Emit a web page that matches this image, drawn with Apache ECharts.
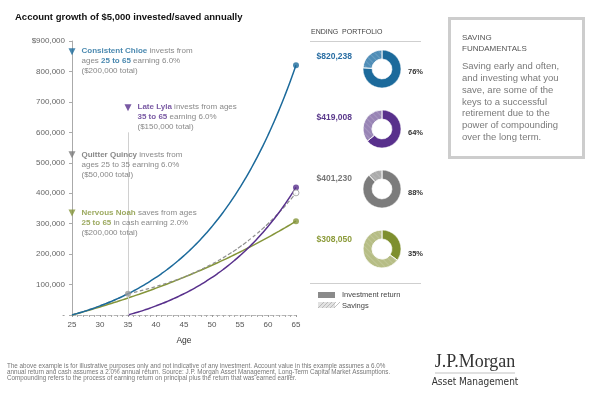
<!DOCTYPE html>
<html>
<head>
<meta charset="utf-8">
<script src="https://cdn.jsdelivr.net/npm/echarts@6/dist/echarts.min.js"></script>
<style>
  html, body { margin: 0; padding: 0; background: #fff; }
  #chart { width: 600px; height: 400px; }
</style>
</head>
<body>
<div id="chart"></div>
<script>
// ages on the x axis (25..65)
const ages = [25, 26, 27, 28, 29, 30, 31, 32, 33, 34, 35, 36, 37, 38, 39, 40, 41, 42, 43, 44, 45,
  46, 47, 48, 49, 50, 51, 52, 53, 54, 55, 56, 57, 58, 59, 60, 61, 62, 63, 64, 65];
const lylaAges = [35, 36, 37, 38, 39, 40, 41, 42, 43, 44, 45, 46, 47, 48, 49, 50, 51, 52, 53, 54, 55,
  56, 57, 58, 59, 60, 61, 62, 63, 64, 65];

// account values
const chloe = [0, 5300, 10918, 16873, 23186, 29877, 36969, 44487, 52457, 60904, 69858, 79350, 89411,
  100075, 111380, 123363, 136064, 149528, 163800, 178928, 194964, 211961, 229979, 249078, 269323,
  290782, 313529, 337641, 363199, 390291, 419008, 449449, 481716, 515919, 552174, 590604, 631341,
  674521, 720292, 768810, 820238];
const lyla = [0, 5300, 10918, 16873, 23186, 29877, 36969, 44487, 52457, 60904, 69858, 79350, 89411,
  100075, 111380, 123363, 136064, 149528, 163800, 178928, 194964, 211961, 229979, 249078, 269323,
  290782, 313529, 337641, 363199, 390291, 419008];
const quincy = [0, 5300, 10918, 16873, 23186, 29877, 36969, 44487, 52457, 60904, 69858, 74049, 78492,
  83202, 88194, 93486, 99095, 105040, 111343, 118023, 125105, 132611, 140568, 149002, 157942, 167418,
  177464, 188111, 199398, 211362, 224044, 237486, 251735, 266840, 282850, 299821, 317810, 336879,
  357092, 378517, 401229];
const noah = [0, 5100, 10302, 15608, 21020, 26541, 32171, 37915, 43773, 49749, 55843, 62060, 68402,
  74870, 81467, 88196, 95060, 102061, 109203, 116487, 123916, 131495, 139225, 147109, 155151, 163355,
  171722, 180256, 188961, 197840, 206897, 216135, 225558, 235169, 244972, 254972, 265171, 275575,
  286186, 297010, 308050];

// ending portfolio panel
const endingLabels = ['$820,238', '$419,008', '$401,230', '$308,050'];
const returnPct = [76, 64, 88, 35];

const BLUE = '#1c6a9b', PURPLE = '#58308c', OLIVE = '#85953a';
const darkCols = [BLUE, PURPLE, '#7c7c7c', '#7e8f2e'];
const lightCols = ['#4f8db7', '#9884b5', '#ababab', '#b6bd85'];
const labelCols = ['#2a6ea3', '#5b3a8c', '#777777', '#8c9b3a'];

const FONT = '"Liberation Sans", Arial, sans-serif';

const chart = echarts.init(document.getElementById('chart'));

const pair = (xs, ys) => ys.map((v, i) => [xs[i], v]);

function note(pos, color, text, nameStyle) {
  return {
    value: pos,
    itemStyle: { color: color },
    label: {
      show: true,
      position: [13, -2],
      align: 'left',
      verticalAlign: 'top',
      fontFamily: FONT,
      fontSize: 8,
      lineHeight: 10,
      color: '#6a6a6a',
      formatter: text,
      rich: {
        n: { color: nameStyle, fontWeight: 'bold', fontSize: 8, lineHeight: 10, fontFamily: FONT }
      }
    }
  };
}

const pies = returnPct.map((p, i) => ({
  type: 'pie',
  silent: true,
  center: [382, 69 + i * 60],
  radius: [10, 19],
  startAngle: 90,
  clockwise: true,
  label: { show: false },
  labelLine: { show: false },
  itemStyle: { borderColor: '#fff', borderWidth: 0.6 },
  data: [
    { value: p, itemStyle: { color: darkCols[i] } },
    { value: 100 - p, itemStyle: { color: lightCols[i],
      decal: { symbol: 'rect', symbolSize: 1, dashArrayX: [1, 0], dashArrayY: [1, 3],
        rotation: Math.PI / 4, color: 'rgba(255,255,255,0.14)' } } }
  ]
}));

const graphics = [
  { type: 'text', x: 15, y: 17, style: { text: 'Account growth of $5,000 invested/saved annually',
      font: 'bold 9.5px ' + FONT, fill: '#111', verticalAlign: 'middle' } },
  { type: 'text', x: 311, y: 32, style: { text: 'ENDING  PORTFOLIO',
      font: '7px ' + FONT, fill: '#444', verticalAlign: 'middle' } },
  { type: 'line', shape: { x1: 310, y1: 41.5, x2: 421, y2: 41.5 }, style: { stroke: '#cfcfcf', lineWidth: 1 } },
  { type: 'line', shape: { x1: 310, y1: 283.5, x2: 421, y2: 283.5 }, style: { stroke: '#cfcfcf', lineWidth: 1 } },
  { type: 'rect', shape: { x: 318, y: 292, width: 17, height: 6 }, style: { fill: '#8a8a8a' } },
  { type: 'rect', shape: { x: 318, y: 302, width: 17, height: 6 }, style: { fill: '#e2e2e2' } },
  { type: 'text', x: 342, y: 295, style: { text: 'Investment return', font: '7.5px ' + FONT,
      fill: '#444', verticalAlign: 'middle' } },
  { type: 'text', x: 342, y: 306, style: { text: 'Savings', font: '7.5px ' + FONT,
      fill: '#444', verticalAlign: 'middle' } },
  // box on the right
  { type: 'rect', shape: { x: 449.5, y: 18.5, width: 134, height: 139 },
    style: { fill: '#fff', stroke: '#cdcdcd', lineWidth: 3 } },
  { type: 'text', x: 462, y: 33, style: { text: 'SAVING\nFUNDAMENTALS', font: '8px ' + FONT,
      lineHeight: 10.5, fill: '#555' } },
  { type: 'text', x: 462, y: 61, style: {
      text: 'Saving early and often,\nand investing what you\nsave, are some of the\nkeys to a successful\n' +
        'retirement due to the\npower of compounding\nover the long term.',
      font: '9.5px ' + FONT, lineHeight: 11.7, fill: '#7a7a7a' } },
  // footnote
  { type: 'text', x: 7, y: 363, style: {
      text: 'The above example is for illustrative purposes only and not indicative of any investment. ' +
        'Account value in this example assumes a 6.0%\nannual return and cash assumes a 2.0% annual return. ' +
        'Source: J.P. Morgan Asset Management, Long-Term Capital Market Assumptions.\n' +
        'Compounding refers to the process of earning return on principal plus the return that was earned earlier.',
      font: '6.3px ' + FONT, lineHeight: 6.3, fill: '#777' } },
  // logo
  { type: 'text', x: 475, y: 362, style: { text: 'J.P.Morgan', font: '18px "Liberation Serif", "DejaVu Serif", serif',
      fill: '#333', align: 'center', verticalAlign: 'middle' } },
  { type: 'line', shape: { x1: 435, y1: 373, x2: 515, y2: 373 }, style: { stroke: '#999', lineWidth: 0.6 } },
  { type: 'text', x: 475, y: 382, style: { text: 'Asset Management',
      font: '10px "Liberation Sans Narrow", "DejaVu Sans Condensed", ' + FONT,
      fill: '#333', align: 'center', verticalAlign: 'middle' } }
];
// hatch on the savings swatch
for (let k = 0; k < 5; k++) {
  graphics.push({ type: 'line', shape: { x1: 318 + k * 4, y1: 308, x2: 324 + k * 4, y2: 302 },
    style: { stroke: '#a8a8a8', lineWidth: 0.7 } });
}
endingLabels.forEach((t, i) => {
  graphics.push({ type: 'text', x: 352, y: 57 + i * 61, style: { text: t, font: 'bold 8.5px ' + FONT,
    fill: labelCols[i], align: 'right', verticalAlign: 'middle' } });
  graphics.push({ type: 'text', x: 408, y: 72 + i * 60.5, style: { text: returnPct[i] + '%',
    font: 'bold 7.5px ' + FONT, fill: '#333', verticalAlign: 'middle' } });
});

const option = {
  animation: false,
  backgroundColor: '#fff',
  grid: { left: 72, right: 304, top: 41, bottom: 85 },
  xAxis: {
    type: 'value', min: 25, max: 65, interval: 5,
    name: 'Age', nameLocation: 'middle', nameGap: 21,
    nameTextStyle: { fontFamily: FONT, fontSize: 8.5, color: '#333' },
    axisLine: { lineStyle: { color: '#b5b5b5', type: 'dashed', width: 1 } },
    axisTick: { show: true, length: 2, lineStyle: { color: '#999' } },
    minorTick: { show: true, splitNumber: 5, length: 2, lineStyle: { color: '#aaa' } },
    axisLabel: { fontFamily: FONT, fontSize: 8, color: '#555', margin: 6 },
    splitLine: { show: false }
  },
  yAxis: {
    type: 'value', min: 0, max: 900000, interval: 100000,
    axisLine: { show: true, lineStyle: { color: '#aaa' } },
    axisTick: { show: true, length: 3, lineStyle: { color: '#aaa' } },
    axisLabel: {
      fontFamily: FONT, fontSize: 8, color: '#666', margin: 7,
      formatter: v => v === 0 ? '-' : (v === 900000 ? '$' : '') + v.toLocaleString('en-US')
    },
    splitLine: { show: false }
  },
  graphic: graphics,
  series: [
    {
      type: 'line', name: 'Nervous Noah', data: pair(ages, noah), symbol: 'none', smooth: true,
      lineStyle: { color: OLIVE, width: 1.5 }, z: 2
    },
    {
      type: 'line', name: 'Quitter Quincy', data: pair(ages, quincy), symbol: 'none', smooth: true,
      lineStyle: { color: '#8f8f8f', width: 1.2, type: [4, 2] }, z: 3
    },
    {
      type: 'line', name: 'Late Lyla', data: pair(lylaAges, lyla), symbol: 'none', smooth: true,
      lineStyle: { color: PURPLE, width: 1.5 }, z: 4,
      markLine: {
        silent: true, symbol: 'none', label: { show: false },
        lineStyle: { color: '#d0d0d0', type: 'solid', width: 1 },
        data: [[{ coord: [35, 0] }, { coord: [35, 600000] }]]
      }
    },
    {
      type: 'line', name: 'Consistent Chloe', data: pair(ages, chloe), symbol: 'none', smooth: true,
      lineStyle: { color: BLUE, width: 1.5 }, z: 5
    },
    {
      // end markers
      type: 'scatter', symbol: 'circle', symbolSize: 6, z: 6, silent: true,
      data: [
        { value: [65, chloe[chloe.length - 1]], itemStyle: { color: BLUE } },
        { value: [65, lyla[lyla.length - 1]], itemStyle: { color: PURPLE } },
        { value: [65, quincy[quincy.length - 1]], itemStyle: { color: '#fff', borderColor: '#999', borderWidth: 1 } },
        { value: [65, noah[noah.length - 1]], itemStyle: { color: OLIVE } },
        { value: [35, quincy[10]], itemStyle: { color: '#9a9a9a' } }
      ]
    },
    {
      // annotations
      type: 'scatter', symbol: 'triangle', symbolRotate: 180, symbolSize: 7, z: 7, silent: true,
      data: [
        note([25, 865000], BLUE, '{n|Consistent Chloe} invests from\nages {n|25 to 65} earning 6.0%\n($200,000 total)', BLUE),
        note([35, 681000], PURPLE, '{n|Late Lyla} invests from ages\n{n|35 to 65} earning 6.0%\n($150,000 total)', PURPLE),
        note([25, 526000], '#7a7a7a', '{n|Quitter Quincy} invests from\nages 25 to 35 earning 6.0%\n($50,000 total)', '#6a6a6a'),
        note([25, 335000], OLIVE, '{n|Nervous Noah} saves from ages\n{n|25 to 65} in cash earning 2.0%\n($200,000 total)', OLIVE)
      ]
    }
  ].concat(pies)
};

chart.setOption(option);
</script>
</body>
</html>
